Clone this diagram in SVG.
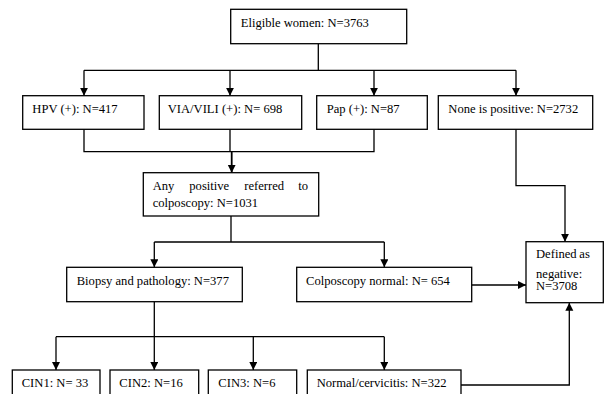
<svg xmlns="http://www.w3.org/2000/svg" width="604" height="394" viewBox="0 0 604 394">
<style>
.box{fill:#fff;stroke:#000;stroke-width:1.3}
.t{font-family:"Liberation Serif","Times New Roman",serif;font-size:12.6px;fill:#000}
.c{fill:none;stroke:#000;stroke-width:1.3}
</style>
<defs>
<marker id="ah" markerUnits="userSpaceOnUse" markerWidth="9" markerHeight="9" refX="8" refY="4" orient="auto">
<path d="M0,0 L8,4 L0,8 z" fill="#000"/>
</marker>
</defs>
<rect width="604" height="394" fill="#fff"/>
<g id="connectors">
<path class="c" d="M318.3,43.7 V70.3 M84,70.3 H516"/>
<path class="c" d="M84,70.3 V95.7" marker-end="url(#ah)"/>
<path class="c" d="M230,70.3 V95.7" marker-end="url(#ah)"/>
<path class="c" d="M374,70.3 V95.7" marker-end="url(#ah)"/>
<path class="c" d="M516,70.3 V95.7" marker-end="url(#ah)"/>
<path class="c" d="M84,129.3 V151.7 H374 V129.3 M230,129.3 V151.7"/>
<path class="c" style="stroke-width:1.8" d="M231.7,151.7 V172.7" marker-end="url(#ah)"/>
<path class="c" d="M231,216 V242 M154.3,242 H384.3"/>
<path class="c" d="M154.3,242 V267.3" marker-end="url(#ah)"/>
<path class="c" d="M384.3,242 V267.3" marker-end="url(#ah)"/>
<path class="c" d="M516,129.3 V185.7 H565 V241.7" marker-end="url(#ah)"/>
<path class="c" d="M471.7,285 H526" marker-end="url(#ah)"/>
<path class="c" d="M154.3,301.7 V336.7 M56,336.7 H384.3"/>
<path class="c" d="M56,336.7 V370" marker-end="url(#ah)"/>
<path class="c" d="M154.3,336.7 V370" marker-end="url(#ah)"/>
<path class="c" d="M253.3,336.7 V370" marker-end="url(#ah)"/>
<path class="c" d="M384.3,336.7 V370" marker-end="url(#ah)"/>
<path class="c" d="M461,385 H569.3 V302.7" marker-end="url(#ah)"/>
</g>
<g id="eligible">
<rect class="box" x="230.7" y="9.3" width="176" height="34.4"/>
<text class="t" x="240.7" y="26.7">Eligible women: N=3763</text>
</g>
<g id="hpv">
<rect class="box" x="22.7" y="95.7" width="121.3" height="33.6"/>
<text class="t" x="32.3" y="112.7">HPV (+): N=417</text>
</g>
<g id="via">
<rect class="box" x="159.3" y="95.7" width="142.4" height="33.6"/>
<text class="t" x="167.7" y="112.7">VIA/VILI (+): N= 698</text>
</g>
<g id="pap">
<rect class="box" x="316.7" y="95.7" width="110.6" height="33.6"/>
<text class="t" x="326.7" y="112.7">Pap (+): N=87</text>
</g>
<g id="none">
<rect class="box" x="438.3" y="95.7" width="154.4" height="33.6"/>
<text class="t" x="448.3" y="112.7">None is positive: N=2732</text>
</g>
<g id="anypositive">
<rect class="box" x="143.3" y="172.7" width="175.4" height="43.3"/>
<text class="t" y="190"><tspan x="152.7">Any</tspan><tspan x="189.3">positive</tspan><tspan x="244.3">referred</tspan><tspan x="298.3">to</tspan></text>
<text class="t" x="152.7" y="206.7">colposcopy: N=1031</text>
</g>
<g id="biopsy">
<rect class="box" x="66.7" y="267.3" width="175.6" height="34.4"/>
<text class="t" x="76.7" y="285">Biopsy and pathology: N=377</text>
</g>
<g id="colpnormal">
<rect class="box" x="296.7" y="267.3" width="175" height="34.4"/>
<text class="t" x="306" y="285">Colposcopy normal: N= 654</text>
</g>
<g id="negative">
<rect class="box" x="526" y="241.7" width="77.3" height="61"/>
<text class="t" y="258.3"><tspan x="536">Defined</tspan><tspan x="579.3">as</tspan></text>
<text class="t" x="536" y="277.5">negative:</text>
<text class="t" x="536" y="290">N=3708</text>
</g>
<g id="cin1">
<rect class="box" x="12.3" y="370" width="87.7" height="30"/>
<text class="t" x="21.7" y="386.7">CIN1: N= 33</text>
</g>
<g id="cin2">
<rect class="box" x="110" y="370" width="88.7" height="30"/>
<text class="t" x="119.3" y="386.7">CIN2: N=16</text>
</g>
<g id="cin3">
<rect class="box" x="208.3" y="370" width="88.4" height="30"/>
<text class="t" x="218.3" y="386.7">CIN3: N=6</text>
</g>
<g id="normalcerv">
<rect class="box" x="307.3" y="370" width="153.7" height="30"/>
<text class="t" x="316.7" y="386.7">Normal/cervicitis: N=322</text>
</g>
</svg>
